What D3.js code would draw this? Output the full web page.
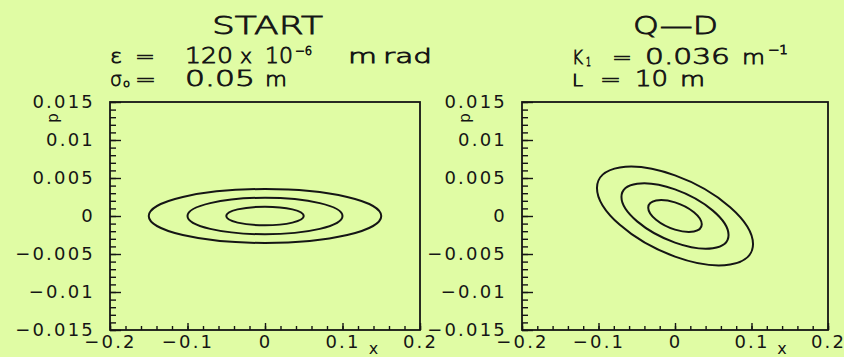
<!DOCTYPE html>
<html>
<head>
<meta charset="utf-8">
<script src="https://cdn.jsdelivr.net/npm/d3@7"></script>
<style>
  html, body { margin: 0; padding: 0; background: #e0fca4; }
  svg { display: block; }
  text { font-family: "DejaVu Sans", sans-serif; fill: #151515; }
  .head { font-weight: 300; stroke: #151515; stroke-width: 0.8px; }
</style>
</head>
<body>
<svg id="chart" width="844" height="357"></svg>
<script>
// Phase-space axes shared by both panels
const xDomain = [-0.2, 0.2];
const pDomain = [-0.015, 0.015];
const xTickValues = [-0.2, -0.1, 0, 0.1, 0.2];
const xTickLabels = ["−0.2", "−0.1", "0", "0.1", "0.2"];
const pTickValues = [-0.015, -0.01, -0.005, 0, 0.005, 0.01, 0.015];
const pTickLabels = ["−0.015", "−0.01", "−0.005", "0", "0.005", "0.01", "0.015"];

// Beam contours at START: half-width in x, p at the x extreme, half-height in p
const startHalfWidth  = [0.05, 0.10, 0.15];
const startPAtXmax    = [0, 0, 0];
const startHalfHeight = [0.00123, 0.0024, 0.00355];

// Beam contours after the quadrupole + drift (Q-D)
const qdHalfWidth  = [0.035, 0.070, 0.102];
const qdPAtXmax    = [-0.0011, -0.0025, -0.0037];
const qdHalfHeight = [0.0021, 0.0043, 0.0065];

const svg = d3.select("#chart");
const ink = "#151515";

const panels = [
  { left: 110, right: 420, top: 102, bottom: 330,
    halfWidth: startHalfWidth, pAtXmax: startPAtXmax, halfHeight: startHalfHeight },
  { left: 522, right: 828, top: 102, bottom: 330,
    halfWidth: qdHalfWidth, pAtXmax: qdPAtXmax, halfHeight: qdHalfHeight }
];

panels.forEach(pn => {
  const x = d3.scaleLinear().domain(xDomain).range([pn.left, pn.right]);
  const y = d3.scaleLinear().domain(pDomain).range([pn.bottom, pn.top]);
  const g = svg.append("g");

  const styleTicks = sel => {
    sel.select(".domain").remove();
    sel.selectAll(".tick line").attr("stroke", ink).attr("stroke-width", 1.4);
    sel.selectAll(".tick text")
      .attr("fill", ink)
      .style("font-family", '"DejaVu Sans", sans-serif')
      .style("font-size", "18px")
      .style("letter-spacing", "2.2px");
  };

  // minor ticks (inward)
  g.append("g").attr("transform", `translate(${pn.left},0)`)
    .call(d3.axisLeft(y).tickValues(y.ticks(30)).tickSize(-6).tickSizeOuter(0).tickFormat(""))
    .call(styleTicks);
  g.append("g").attr("transform", `translate(0,${pn.bottom})`)
    .call(d3.axisBottom(x).tickValues(x.ticks(20)).tickSize(-4).tickSizeOuter(0).tickFormat(""))
    .call(styleTicks);

  // major ticks with labels
  g.append("g").attr("transform", `translate(${pn.left},0)`)
    .call(d3.axisLeft(y).tickValues(pTickValues).tickSize(-11).tickSizeOuter(0).tickPadding(15)
      .tickFormat((d, i) => pTickLabels[i]))
    .call(styleTicks);
  g.append("g").attr("transform", `translate(0,${pn.bottom})`)
    .call(d3.axisBottom(x).tickValues(xTickValues).tickSize(-7).tickSizeOuter(0).tickPadding(5)
      .tickFormat((d, i) => xTickLabels[i]))
    .call(styleTicks);

  // frame
  g.append("rect")
    .attr("x", pn.left).attr("y", pn.top)
    .attr("width", pn.right - pn.left).attr("height", pn.bottom - pn.top)
    .attr("fill", "none").attr("stroke", ink).attr("stroke-width", 1.8);

  // contours: unit circle mapped through the ellipse's linear form and the scales
  const cx = x(0), cy = y(0);
  g.selectAll("circle.contour")
    .data(d3.range(pn.halfWidth.length))
    .join("circle")
    .attr("class", "contour")
    .attr("r", 1)
    .attr("fill", "none")
    .attr("stroke", ink)
    .attr("stroke-width", 2)
    .attr("vector-effect", "non-scaling-stroke")
    .attr("transform", i => {
      const xm = pn.halfWidth[i];
      const pxm = pn.pAtXmax[i];
      const q = Math.sqrt(pn.halfHeight[i] ** 2 - pxm ** 2);
      const a = x(xm) - cx;
      const b = y(pxm) - cy;
      const d = y(q) - cy;
      return `matrix(${a},${b},0,${d},${cx},${cy})`;
    });

  // axis names
  g.append("text")
    .attr("transform", `translate(${pn.left - 52},${pn.top + 16}) rotate(-90)`)
    .attr("text-anchor", "middle")
    .style("font-size", "15px")
    .text("p");
  g.append("text")
    .attr("x", pn.left + (pn.right - pn.left) * 0.85)
    .attr("y", 354)
    .attr("text-anchor", "middle")
    .style("font-size", "16px")
    .text("x");
});

// Header text, set token by token in a wide plotter-style lettering
function token(str, xPos, yPos, size, width) {
  const t = svg.append("text")
    .attr("class", "head")
    .attr("x", xPos).attr("y", yPos)
    .style("font-size", size + "px")
    .text(str);
  if (width) t.attr("textLength", width).attr("lengthAdjust", "spacingAndGlyphs");
  return t;
}

// START panel header
token("START", 212, 34, 25, 111);
token("ε", 110, 63, 20, 12);
token("=", 135, 63, 20, 20);
token("120", 185, 63, 21, 48);
token("x", 240, 63, 20, 12);
token("10", 265, 63, 21, 28);
token("−6", 295, 55, 12, 17);
token("m", 348, 63, 20, 29);
token("rad", 383, 63, 20, 49);
token("σ", 110, 86, 20, 12);
token("o", 123, 87, 11, 7);
token("=", 135, 86, 20, 21);
token("0.05", 185, 86, 21, 70);
token("m", 265, 86, 20, 22);

// Q-D panel header
token("Q—D", 633, 34, 25, 85);
token("K", 572, 64, 20, 11);
token("1", 586, 66, 12, 5);
token("=", 612, 64, 20, 20);
token("0.036", 645, 64, 21, 85);
token("m", 742, 64, 20, 23);
token("−1", 768, 54, 12, 20);
token("L", 572, 86, 16, 11);
token("=", 600, 86, 20, 21);
token("10", 635, 86, 21, 33);
token("m", 680, 86, 20, 25);
</script>
</body>
</html>
